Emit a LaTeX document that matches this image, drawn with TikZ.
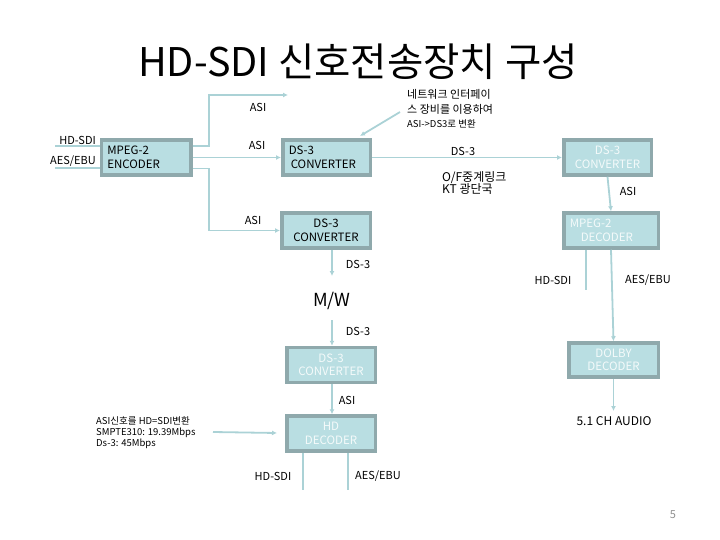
\documentclass[tikz,border=0pt]{standalone}
\usepackage{fontspec}
\setmainfont{Noto Sans CJK KR}
\usetikzlibrary{arrows.meta}
\definecolor{boxfill}{HTML}{B9DEE2}
\definecolor{boxline}{HTML}{8FA9AC}
\definecolor{lncol}{HTML}{ABD2D6}
\definecolor{wtext}{HTML}{F4FAFA}
\definecolor{pgnum}{HTML}{909090}
\begin{document}
\begin{tikzpicture}[x=1pt,y=-1pt,
  box/.style={draw=boxline, fill=boxfill, line width=3.5pt, minimum height=35pt,
    inner xsep=6pt, inner ysep=2pt, font=\fontsize{11.5}{13.5}\selectfont},
  wbox/.style={box, text=wtext, align=center},
  conn/.style={draw=lncol, line width=1.8pt, -{Latex[length=5pt,width=5pt]}},
  plain/.style={draw=lncol, line width=1.8pt},
  lbl/.style={font=\fontsize{11}{13}\selectfont, inner sep=0pt},
]
\useasboundingbox (0,0) rectangle (720,540);

% title
\node[inner sep=0pt, font=\fontsize{39.5}{42}\selectfont] (title) at (358,62) {HD-SDI 신호전송장치 구성};

% boxes
\node[box, text width=77.5pt, align=left] (enc) at (146,157.5) {MPEG-2\\ENCODER};
\node[box, text width=75.5pt, align=left] (c1) at (326.5,157.5) {DS-3\\\hspace{2pt}CONVERTER};
\node[wbox, text width=75.5pt] (c2) at (607.5,157.5) {DS-3\\CONVERTER};
\node[box, text width=76.5pt, align=center] (c3) at (326,230.5) {DS-3\\CONVERTER};
\node[box, text=wtext, text width=82.5pt, align=left] (mdec) at (611,230.5) {MPEG-2\\\hspace{11pt}DECODER};
\node[wbox, text width=76.5pt] (c4) at (331,365) {DS-3\\CONVERTER};
\node[wbox, text width=76.5pt] (hdd) at (331,433.5) {HD\\DECODER};
\node[wbox, text width=77.5pt, minimum height=34pt] (dolby) at (613.5,360) {DOLBY\\DECODER};

% inputs of encoder
\node[lbl, anchor=east] (inHD) at (96,140) {HD-SDI};
\node[lbl, anchor=east] (inAES) at (96,161) {AES/EBU};
\coordinate (inHDs) at (55,146);
\coordinate (inAESs) at (55,168);
\draw[plain] (inHDs) -- ([yshift=11.5pt]enc.west);
\draw[plain] (inAESs) -- ([yshift=-10.5pt]enc.west);

% encoder outputs
\coordinate (turnA) at (209,95);
\coordinate (asiUp) at (288,95);
\draw[conn] ([yshift=11.5pt]enc.east) -| (turnA) -- (asiUp);
\node[lbl] (lA1) at (258,107) {ASI};
\draw[conn] (enc.east) -- (c1.west);
\node[lbl] (lA2) at (257,145) {ASI};
\coordinate (turnB) at (209,230.5);
\draw[conn] ([yshift=-11pt]enc.east) -| (turnB) -- (c3.west);
\node[lbl] (lA3) at (253,220) {ASI};

% top chain
\draw[conn] (c1.east) -- (c2.west);
\node[lbl] (lD1) at (463,151) {DS-3};
\node[inner sep=0pt, anchor=west, align=left, font=\fontsize{12}{12.5}\selectfont] (of) at (442,183) {O/F중계링크\\KT 광단국};

% annotation
\node[inner sep=0pt, anchor=west, align=left, font=\fontsize{11}{14.5}\selectfont] (note) at (407,109)
  {네트워크 인터페이\\스 장비를 이용하여\\{\fontsize{9.5}{11}\selectfont ASI->DS3로 변환}};
\coordinate (noteTail) at (400,112);
\coordinate (noteHead) at (360,136);
\draw[conn] (noteTail) -- (noteHead);

% right column
\draw[conn] (c2.south) -- (mdec.north);
\node[lbl] (lA4) at (628,191) {ASI};
\coordinate (mHDend) at (586,290);
\draw[plain] ([xshift=-25pt]mdec.south) -- (mHDend);
\node[lbl] (lH1) at (553,280) {HD-SDI};
\draw[conn] (mdec.south) -- (dolby.north);
\node[lbl] (lE1) at (648,280) {AES/EBU};
\coordinate (audioTop) at (613.5,411);
\draw[conn] (dolby.south) -- (audioTop);
\node[inner sep=0pt, font=\fontsize{12}{14}\selectfont] (audio) at (614,421) {5.1 CH AUDIO};

% middle column
\coordinate (mwIn) at (332,276);
\draw[conn] ([xshift=6pt]c3.south) -- (mwIn);
\node[lbl] (lD2) at (358,264) {DS-3};
\node[inner sep=0pt, font=\fontsize{18}{20}\selectfont] (mw) at (332,301) {M/W};
\coordinate (mwOut) at (332,320);
\draw[conn] (mwOut) -- ([xshift=1pt]c4.north);
\node[lbl] (lD3) at (358,331) {DS-3};
\draw[conn] ([xshift=1pt]c4.south) -- ([xshift=1pt]hdd.north);
\node[lbl] (lA5) at (347,400) {ASI};

% HD decoder
\coordinate (hdIn) at (213,432);
\coordinate (hdInEnd) at (277,433);
\draw[conn] (hdIn) -- (hdInEnd);
\node[inner sep=0pt, anchor=west, align=left, font=\fontsize{9.5}{11}\selectfont] (left) at (96,433)
  {ASI신호를 HD=SDI변환\\SMPTE310: 19.39Mbps\\Ds-3: 45Mbps};
\coordinate (hHDend) at (303,490);
\coordinate (hAESend) at (348,490);
\draw[plain] ([xshift=-28pt]hdd.south) -- (hHDend);
\draw[plain] ([xshift=17pt]hdd.south) -- (hAESend);
\node[lbl] (lH2) at (273,476) {HD-SDI};
\node[lbl] (lE2) at (378,476) {AES/EBU};

% page number
\node[inner sep=0pt, text=pgnum, font=\fontsize{11}{13}\selectfont] (pg) at (673,515) {5};
\end{tikzpicture}
\end{document}
